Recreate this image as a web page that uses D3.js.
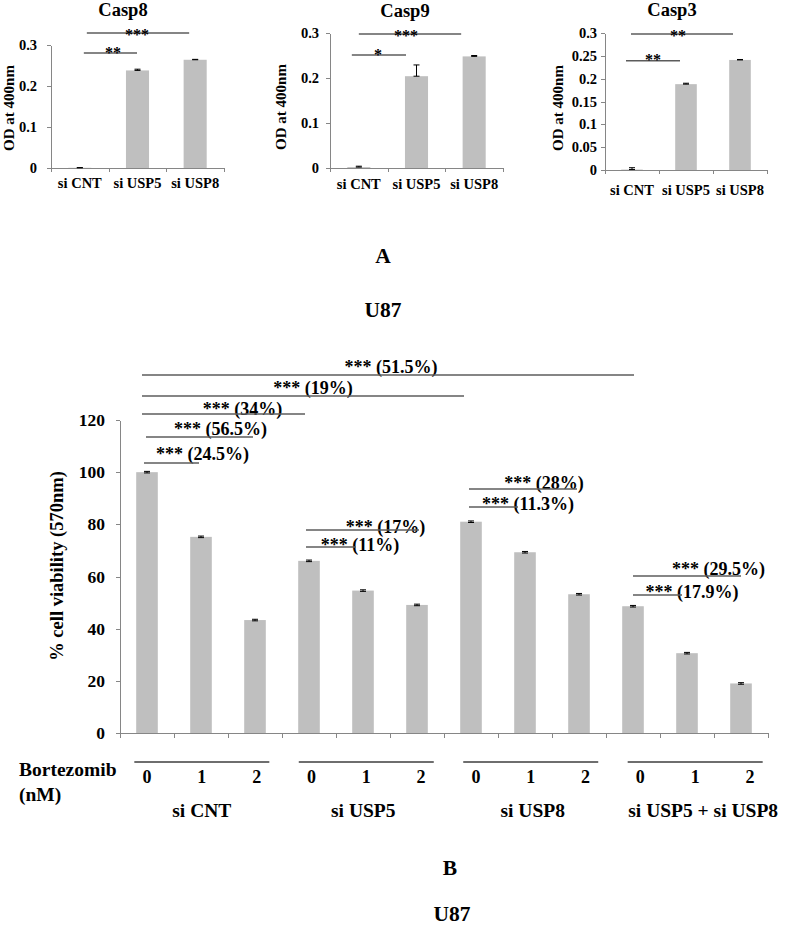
<!DOCTYPE html>
<html><head><meta charset="utf-8">
<script src="https://cdn.jsdelivr.net/npm/d3@7"></script>
<style>
body{margin:0;background:#fff}
svg{display:block}
text{font-family:"Liberation Serif","Times New Roman",serif;font-weight:bold;fill:#000}
</style>
</head><body>
<svg id="c" width="787" height="926"></svg>
<script>
// ---------------- DATA ----------------
const topTitles = ["Casp8", "Casp9", "Casp3"];
const topCategories = ["si CNT", "si USP5", "si USP8"];
const casp8Values = [0.0005, 0.238, 0.264];
const casp8Errors = [0.0005, 0.003, 0.001];
const casp9Values = [0.002, 0.204, 0.248];
const casp9Errors = [0.002, 0.025, 0.002];
const casp3Values = [0.001, 0.188, 0.241];
const casp3Errors = [0.004, 0.002, 0.001];
const casp8Ticks = [0, 0.1, 0.2, 0.3];
const casp9Ticks = [0, 0.1, 0.2, 0.3];
const casp3Ticks = [0, 0.05, 0.1, 0.15, 0.2, 0.25, 0.3];
const topYLabel = "OD at 400nm";
// significance: [fromIndex, toIndex, level, label]
const casp8Sig = [[0, 1, 0.2805, "**"], [0, 2, 0.329, "***"]];
const casp9Sig = [[0, 1, 0.251, "*"], [0, 2, 0.298, "***"]];
const casp3Sig = [[0, 1, 0.239, "**"], [0, 2, 0.298, "**"]];

const groups = ["si CNT", "si USP5", "si USP8", "si USP5 + si USP8"];
const doses = ["0", "1", "2"];
const viability = [100, 75.2, 43.3, 66.0, 54.6, 49.1, 81.0, 69.3, 53.2, 48.6, 30.6, 19.0];
const viabilityErrors = [0.3, 0.3, 0.3, 0.3, 0.3, 0.3, 0.3, 0.3, 0.3, 0.3, 0.3, 0.3];
const viabilityTicks = [0, 20, 40, 60, 80, 100, 120];
const viabilityYLabel = "% cell viability (570nm)";
const doseLabel = ["Bortezomib", "(nM)"];
const viabilitySig = [
  [0, 9, 137.3, "*** (51.5%)"],
  [0, 6, 129.2, "*** (19%)"],
  [0, 3, 122.3, "*** (34%)"],
  [0, 2, 113.5, "*** (56.5%)"],
  [0, 1, 103.5, "*** (24.5%)"],
  [3, 5, 77.8, "*** (17%)"],
  [3, 4, 71.3, "*** (11%)"],
  [6, 8, 93.5, "*** (28%)"],
  [6, 7, 86.6, "*** (11.3%)"],
  [9, 11, 60.2, "*** (29.5%)"],
  [9, 10, 52.9, "*** (17.9%)"]
];
const panelLabels = ["A", "U87", "B", "U87"];

// ---------------- LAYOUT / STYLE ----------------
const AXIS = "#868686", BAR = "#bfbfbf", SIG = "#5c5c5c", TABLE = "#6e6e6e";
const topLayouts = [
  {x0: 51, x1: 224, yTop: 45, yBot: 168, pad: 10, titleX: 123, titleY: 16, ytX: 14, ytY: 108, catY: 188,
   sigOff: [[4, -0.5, 2.5, 1], [7, -6, -1, 2.5]]},
  {x0: 330, x1: 503, yTop: 33, yBot: 168, pad: 7, titleX: 405, titleY: 17, ytX: 286, ytY: 107, catY: 189,
   sigOff: [[-7, -10.5, -1, 1], [0, -13, -4, 3]]},
  {x0: 605, x1: 767, yTop: 33, yBot: 170, pad: 4, titleX: 672, titleY: 16, ytX: 563, ytY: 108, catY: 195,
   sigOff: [[-6, -6, 0, 0], [-1, -7, -4, 3]]}
];
const bottomSigOff = [
  [-5, 1, 3, -1.5], [-5, -7, 10, -2.5], [-5, -4, 19, 0.5], [-1, -2, 21, -1.5], [-3, -2, 31, -3.5],
  [-3, 2, 23, 2.5], [-3, -7, 29, 3.5], [-2, -2, 21, -0.5], [-2, -7, 34.5, 2.5], [0, 0, 31.5, -0.5], [0, -5, 34.5, 2.5]
];
const groupLabelDx = [0, -3, 2, 8];

const svg = d3.select("#c");

function styleAxis(g, size) {
  g.selectAll("path,line").attr("stroke", AXIS).attr("stroke-width", 1).attr("shape-rendering", "crispEdges");
  g.selectAll("text").attr("font-size", size).attr("fill", "#000");
}
const fmtTop = d => String(+d.toFixed(2));

// ---------------- TOP CHARTS ----------------
const topSeries = [
  {values: casp8Values, errors: casp8Errors, ticks: casp8Ticks, sig: casp8Sig},
  {values: casp9Values, errors: casp9Errors, ticks: casp9Ticks, sig: casp9Sig},
  {values: casp3Values, errors: casp3Errors, ticks: casp3Ticks, sig: casp3Sig}
];

topSeries.forEach((s, k) => {
  const L = topLayouts[k];
  const g = svg.append("g");
  const x = d3.scaleBand().domain(topCategories).range([L.x0, L.x1]).paddingInner(0.6).paddingOuter(0.3);
  const xb = d3.scaleLinear().domain([0, topCategories.length]).range([L.x0, L.x1]);
  const y = d3.scaleLinear().domain([0, 0.3]).range([L.yBot, L.yTop]);

  g.selectAll("rect.bar").data(s.values).join("rect").attr("class", "bar")
    .attr("x", (d, i) => x(topCategories[i])).attr("width", x.bandwidth())
    .attr("y", d => y(d)).attr("height", d => L.yBot - y(d)).attr("fill", BAR);

  const ya = g.append("g").attr("transform", `translate(${L.x0},0)`)
    .call(d3.axisLeft(y).tickValues(s.ticks).tickSize(4).tickSizeOuter(0).tickPadding(L.pad).tickFormat(fmtTop));
  styleAxis(ya, 14.5);
  const xa = g.append("g").attr("transform", `translate(0,${L.yBot})`)
    .call(d3.axisBottom(xb).tickValues(d3.range(topCategories.length + 1)).tickSize(4).tickSizeOuter(0).tickFormat(""));
  styleAxis(xa, 14);

  // error bars
  s.values.forEach((v, i) => {
    const cx = x(topCategories[i]) + x.bandwidth() / 2;
    const y1 = y(v), y2 = y(v + s.errors[i]);
    g.append("line").attr("x1", cx).attr("x2", cx).attr("y1", y1).attr("y2", y2).attr("stroke", "#000").attr("stroke-width", 1);
    [y1, y2].forEach(yy => g.append("line").attr("x1", cx - 3).attr("x2", cx + 3).attr("y1", yy).attr("y2", yy).attr("stroke", "#000").attr("stroke-width", 1));
  });

  // category labels
  topCategories.forEach(c => {
    g.append("text").attr("x", x(c) + x.bandwidth() / 2).attr("y", L.catY).attr("text-anchor", "middle").attr("font-size", 14.5).text(c);
  });

  // title
  g.append("text").attr("x", L.titleX).attr("y", L.titleY).attr("text-anchor", "middle").attr("font-size", 18.5).text(topTitles[k]);
  // y title
  g.append("text").attr("transform", `translate(${L.ytX},${L.ytY}) rotate(-90)`).attr("text-anchor", "middle").attr("font-size", 15).text(topYLabel);

  // significance
  s.sig.forEach((d, j) => {
    const o = L.sigOff[j];
    const xa1 = x(topCategories[d[0]]) + x.bandwidth() / 2 + o[0];
    const xa2 = x(topCategories[d[1]]) + x.bandwidth() / 2 + o[1];
    const yy = y(d[2]);
    g.append("line").attr("x1", xa1).attr("x2", xa2).attr("y1", yy).attr("y2", yy).attr("stroke", SIG).attr("stroke-width", 1.5);
    g.append("text").attr("x", (xa1 + xa2) / 2 + o[2]).attr("y", yy + o[3] + 4).attr("text-anchor", "middle").attr("font-size", 16).text(d[3]);
  });
});

// panel labels
const panelPos = [[383, 263], [383, 317], [450, 875], [452, 921]];
panelLabels.forEach((t, i) => {
  svg.append("text").attr("x", panelPos[i][0]).attr("y", panelPos[i][1]).attr("text-anchor", "middle").attr("font-size", 21.5).text(t);
});

// ---------------- BOTTOM CHART ----------------
const B = {x0: 120, x1: 768, yTop: 420, yBot: 733};
const bars = d3.range(viability.length);
const xB = d3.scaleBand().domain(bars).range([B.x0, B.x1]).paddingInner(0.6).paddingOuter(0.3);
const xBb = d3.scaleLinear().domain([0, bars.length]).range([B.x0, B.x1]);
const yB = d3.scaleLinear().domain([0, 120]).range([B.yBot, B.yTop]);
const gB = svg.append("g");

gB.selectAll("rect.vbar").data(viability).join("rect").attr("class", "vbar")
  .attr("x", (d, i) => xB(i)).attr("width", xB.bandwidth())
  .attr("y", d => yB(d)).attr("height", d => B.yBot - yB(d)).attr("fill", BAR);

const yaB = gB.append("g").attr("transform", `translate(${B.x0},0)`)
  .call(d3.axisLeft(yB).tickValues(viabilityTicks).tickSize(4).tickSizeOuter(0).tickPadding(11));
styleAxis(yaB, 17.5);
const xaB = gB.append("g").attr("transform", `translate(0,${B.yBot})`)
  .call(d3.axisBottom(xBb).tickValues(d3.range(bars.length + 1)).tickSize(5).tickSizeOuter(0).tickFormat(""));
styleAxis(xaB, 17);

viability.forEach((v, i) => {
  const cx = xB(i) + xB.bandwidth() / 2;
  const y1 = yB(v - viabilityErrors[i]), y2 = yB(v + viabilityErrors[i]);
  gB.append("line").attr("x1", cx).attr("x2", cx).attr("y1", y1).attr("y2", y2).attr("stroke", "#000").attr("stroke-width", 1);
  [y1, y2].forEach(yy => gB.append("line").attr("x1", cx - 3).attr("x2", cx + 3).attr("y1", yy).attr("y2", yy).attr("stroke", "#000").attr("stroke-width", 1));
});

gB.append("text").attr("transform", "translate(63,566) rotate(-90)").attr("text-anchor", "middle").attr("font-size", 18.5).text(viabilityYLabel);

// significance
viabilitySig.forEach((d, j) => {
  const o = bottomSigOff[j];
  const xa1 = xB(d[0]) + xB.bandwidth() / 2 + o[0];
  const xa2 = xB(d[1]) + xB.bandwidth() / 2 + o[1];
  const yy = yB(d[2]);
  gB.append("text").attr("x", (xa1 + xa2) / 2 + o[2]).attr("y", yy + o[3]).attr("text-anchor", "middle").attr("font-size", 18).text(d[3]);
  gB.append("line").attr("x1", xa1).attr("x2", xa2).attr("y1", yy).attr("y2", yy).attr("stroke", SIG).attr("stroke-width", 1.5);
});

// table below axis
const tableKeys = d3.range(groups.length * doses.length);
const xT = d3.scalePoint().domain(tableKeys).range([147, 750]);
tableKeys.forEach(i => {
  gB.append("text").attr("x", xT(i)).attr("y", 783).attr("text-anchor", "middle").attr("font-size", 18).text(doses[i % doses.length]);
});
groups.forEach((gname, k) => {
  const cx = d3.mean(doses.map((_, j) => xT(k * doses.length + j)));
  gB.append("line").attr("x1", cx - 67.5).attr("x2", cx + 67.5).attr("y1", 762).attr("y2", 762).attr("stroke", TABLE).attr("stroke-width", 2);
  gB.append("text").attr("x", cx + groupLabelDx[k]).attr("y", 817).attr("text-anchor", "middle").attr("font-size", 19.5).text(gname);
});
gB.append("text").attr("x", 19).attr("y", 776).attr("font-size", 19.5).text(doseLabel[0]);
gB.append("text").attr("x", 19).attr("y", 801).attr("font-size", 19.5).text(doseLabel[1]);
</script>
</body></html>
